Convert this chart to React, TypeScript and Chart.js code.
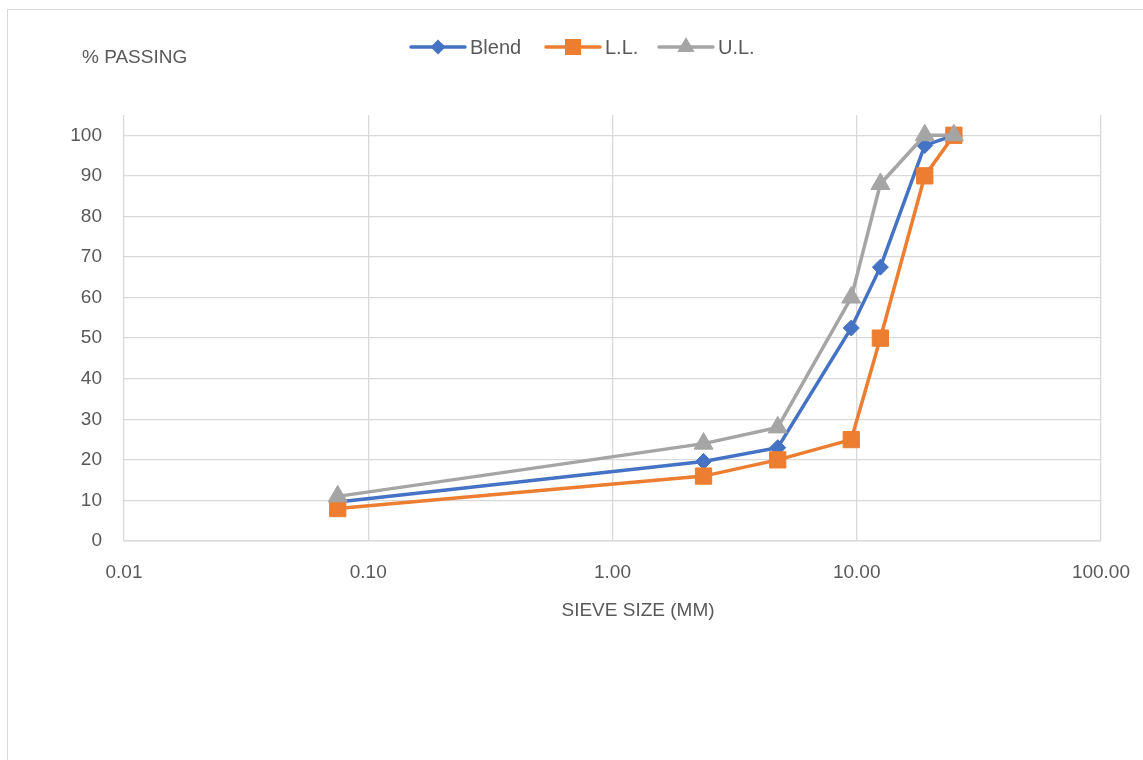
import React, { useEffect, useRef } from "react";
import { Chart, registerables } from "chart.js";

Chart.register(...registerables);

const sieveSizes = [0.075, 2.36, 4.75, 9.5, 12.5, 19, 25];
const blend = [9.6, 19.6, 23, 52.5, 67.5, 97.5, 100];
const lowerLimit = [8, 16, 20, 25, 50, 90, 100];
const upperLimit = [11, 24, 28, 60, 88, 100, 100];
const xTickValues = [0.01, 0.1, 1, 10, 100];
const yTickValues = [0, 10, 20, 30, 40, 50, 60, 70, 80, 90, 100];

const BLUE = "#4472C4";
const ORANGE = "#ED7D31";
const GRAY = "#A5A5A5";
const TEXT = "#595959";
const GRID = "#D9D9D9";
const FONT = "'Liberation Sans', Arial, sans-serif";

const toPoints = (ys: number[]) => sieveSizes.map((x, i) => ({ x, y: ys[i] }));

function drawMarker(ctx: CanvasRenderingContext2D, kind: string, x: number, y: number, color: string) {
  ctx.save();
  ctx.fillStyle = color;
  ctx.beginPath();
  if (kind === "diamond") {
    const r = 7.5;
    ctx.moveTo(x, y - r);
    ctx.lineTo(x + r, y);
    ctx.lineTo(x, y + r);
    ctx.lineTo(x - r, y);
  } else if (kind === "square") {
    const h = 8;
    ctx.rect(x - h, y - h, 2 * h, 2 * h);
  } else {
    const r = 10;
    ctx.moveTo(x, y - r);
    ctx.lineTo(x + r * 0.866, y + r * 0.5);
    ctx.lineTo(x - r * 0.866, y + r * 0.5);
  }
  ctx.closePath();
  ctx.fill();
  ctx.restore();
}

const overlayPlugin = {
  id: "overlayText",
  afterDraw(chart: any) {
    const ctx: CanvasRenderingContext2D = chart.ctx;
    ctx.save();
    ctx.fillStyle = TEXT;
    ctx.font = `19px ${FONT}`;
    ctx.textBaseline = "middle";
    ctx.textAlign = "left";
    ctx.fillText("% PASSING", 74, 48);

    const items = [
      { label: "Blend", color: BLUE, kind: "diamond", x0: 403 },
      { label: "L.L.", color: ORANGE, kind: "square", x0: 538 },
      { label: "U.L.", color: GRAY, kind: "triangle", x0: 651 },
    ];
    const ly = 37;
    for (const it of items) {
      ctx.save();
      ctx.strokeStyle = it.color;
      ctx.lineWidth = 3.5;
      ctx.lineCap = "round";
      ctx.beginPath();
      ctx.moveTo(it.x0, ly);
      ctx.lineTo(it.x0 + 54, ly);
      ctx.stroke();
      ctx.restore();
      drawMarker(ctx, it.kind, it.x0 + 27, ly, it.color);
      ctx.fillStyle = TEXT;
      ctx.font = `20px ${FONT}`;
      ctx.textAlign = "left";
      ctx.fillText(it.label, it.x0 + 59, ly + 1);
    }

    ctx.font = `19px ${FONT}`;
    ctx.textAlign = "center";
    ctx.fillText("SIEVE SIZE (MM)", 630, 601);
    ctx.restore();
  },
};

export default function App() {
  const ref = useRef<HTMLCanvasElement | null>(null);

  useEffect(() => {
    if (!ref.current) return;
    const chart = new Chart(ref.current, {
      type: "line",
      data: {
        datasets: [
          {
            label: "Blend",
            data: toPoints(blend),
            borderColor: BLUE,
            backgroundColor: BLUE,
            borderWidth: 3.5,
            pointStyle: "rectRot",
            pointRadius: 8,
            pointBorderWidth: 1,
            order: 2,
          },
          {
            label: "L.L.",
            data: toPoints(lowerLimit),
            borderColor: ORANGE,
            backgroundColor: ORANGE,
            borderWidth: 3.5,
            pointStyle: "rect",
            pointRadius: 11.5,
            pointBorderWidth: 1,
            order: 1,
          },
          {
            label: "U.L.",
            data: toPoints(upperLimit),
            borderColor: GRAY,
            backgroundColor: GRAY,
            borderWidth: 3.5,
            pointStyle: "triangle",
            pointRadius: 11,
            pointBorderWidth: 1,
            order: 0,
          },
        ],
      },
      options: {
        responsive: false,
        animation: false,
        layout: { padding: { top: 105, left: 0, right: 36, bottom: 169 } },
        plugins: {
          legend: { display: false },
          tooltip: { enabled: false },
        },
        scales: {
          x: {
            type: "logarithmic",
            min: 0.01,
            max: 100,
            afterBuildTicks: (axis: any) => {
              axis.ticks = xTickValues.map((v) => ({ value: v }));
            },
            afterFit: (axis: any) => {
              axis.height = 50;
            },
            ticks: {
              color: TEXT,
              font: { family: FONT, size: 19 },
              padding: 20,
              maxRotation: 0,
              autoSkip: false,
              callback: (v: any) => Number(v).toFixed(2),
            },
            grid: { color: GRID, lineWidth: 1.3, drawTicks: false },
            border: { display: true, color: GRID, width: 1.5 },
          },
          y: {
            type: "linear",
            min: 0,
            max: 105,
            afterBuildTicks: (axis: any) => {
              axis.ticks = yTickValues.map((v) => ({ value: v }));
            },
            afterFit: (axis: any) => {
              axis.width = 116;
            },
            ticks: {
              color: TEXT,
              font: { family: FONT, size: 19 },
              padding: 22,
              callback: (v: any) => String(v),
            },
            grid: { color: GRID, lineWidth: 1.3, drawTicks: false },
            border: { display: false },
          },
        },
      },
      plugins: [overlayPlugin],
    } as any);
    return () => chart.destroy();
  }, []);

  return (
    <div
      style={{
        position: "fixed",
        left: 7,
        top: 9,
        width: 1200,
        height: 800,
        border: "1px solid #D9D9D9",
        background: "#fff",
        overflow: "hidden",
      }}
    >
      <canvas ref={ref} width={1142} height={750} style={{ display: "block" }} />
    </div>
  );
}
